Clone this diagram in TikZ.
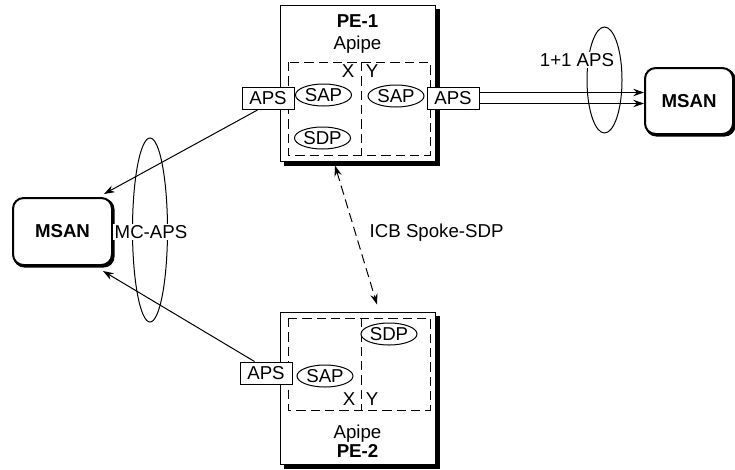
\documentclass[tikz,border=0pt]{standalone}
\usepackage{fontspec}
\setmainfont{Liberation Sans}
\usetikzlibrary{arrows.meta,calc,shapes.geometric,backgrounds}

\begin{document}
\begin{tikzpicture}[x=0.75pt,y=-0.75pt,
  font=\fontsize{14}{16}\selectfont,
  pebox/.style={draw, line width=0.75pt, fill=white, rectangle, inner sep=0pt},
  boxshadow/.style={fill=black},
  zone/.style={draw, dash pattern=on 7pt off 3.75pt, line width=0.75pt},
  port/.style={draw, fill=white, line width=0.75pt, minimum width=39pt,
    minimum height=16.5pt, inner sep=0pt},
  svc/.style={draw, ellipse, fill=white, line width=0.75pt, minimum width=42pt,
    minimum height=16.5pt, inner sep=0pt},
  msan/.style={draw, rounded corners=8pt, line width=1.5pt, fill=white,
    font=\fontsize{14}{16}\selectfont\bfseries},
  group/.style={draw, ellipse, line width=0.75pt, inner sep=0pt},
  link/.style={line width=0.75pt, -{Stealth[length=8pt,width=5.5pt]}},
  lbl/.style={fill=white, inner sep=1pt}
]
\useasboundingbox (0,0) rectangle (735,469);

% provider edge routers
\node[pebox, minimum width=116.25pt, minimum height=117pt] (pe1) at (357.5,83) {};
\node[pebox, minimum width=116.25pt, minimum height=114pt] (pe2) at (357.5,388) {};

% solid drop shadows behind the routers and access nodes
\begin{scope}[on background layer]
  \fill[boxshadow] ($(pe1.north west)+(4,4)$) rectangle ($(pe1.south east)+(4,4)$);
  \fill[boxshadow] ($(pe2.north west)+(4,4)$) rectangle ($(pe2.south east)+(4,4)$);
\end{scope}

\node[anchor=base, font=\fontsize{14}{16}\selectfont\bfseries] (pe1name) at (357.5,27) {PE-1};
\node[anchor=base] (pe1svc) at (357.5,49) {Apipe};
\node[anchor=base] (pe2svc) at (357.5,438) {Apipe};
\node[anchor=base, font=\fontsize{14}{16}\selectfont\bfseries] (pe2name) at (357.5,457) {PE-2};

% service zones with X / Y split
\draw[zone] (288,62) rectangle (430,155);
\draw[zone] (361,62) -- (361,155);
\draw[zone] (288,318) rectangle (430,410);
\draw[zone] (361,318) -- (361,410);
\node[anchor=base] (x1) at (348,77) {X};
\node[anchor=base] (y1) at (372,77) {Y};
\node[anchor=base] (x2) at (349,405) {X};
\node[anchor=base] (y2) at (372,405) {Y};

% service access and distribution points
\node[svc] (sap1) at (323.5,95) {SAP};
\node[svc] (sdp1) at (322.5,138) {SDP};
\node[svc] (sap2) at (396,96) {SAP};
\node[svc] (sdp2) at (389,334) {SDP};
\node[svc] (sap3) at (325,376) {SAP};

% APS ports
\node[port] (aps1) at (268,98.5) {APS};
\node[port] (aps2) at (453,98.5) {APS};
\node[port] (aps3) at (266,373) {APS};

% access nodes
\node[msan, minimum width=74.25pt, minimum height=50.25pt] (msanL) at (62.5,231.5) {MSAN};
\node[msan, minimum width=66pt, minimum height=49.5pt] (msanR) at (689,101) {MSAN};
\begin{scope}[on background layer]
  \fill[boxshadow, rounded corners=8pt] ($(msanL.north west)+(1.5,1.5)$) rectangle ($(msanL.south east)+(1.5,1.5)$);
  \fill[boxshadow, rounded corners=8pt] ($(msanR.north west)+(1.5,1.5)$) rectangle ($(msanR.south east)+(1.5,1.5)$);
\end{scope}

% protection groups
\node[group, minimum width=26.25pt, minimum height=138pt] (mcg) at (150,230) {};
\node[group, minimum width=26.25pt, minimum height=79.5pt] (apsg) at (604.5,80) {};
\node[lbl] (mclbl) at (151,232) {MC-APS};
\node[lbl] (apslbl) at (577,60) {1+1 APS};

% links
\draw[link] ($(aps1.south west)+(16,0)$) -- ($(msanL.north east)+(-9,-3)$);
\draw[link] ($(aps3.north west)+(15,0)$) -- ($(msanL.south east)+(-10,5)$);
\coordinate (t1) at ($(aps2.east)+(0,-6)$);
\coordinate (t2) at ($(aps2.east)+(0,5)$);
\draw[link] (t1) -- (t1 -| msanR.west);
\draw[link] (t2) -- (t2 -| msanR.west);

% inter-chassis backup spoke
\draw[line width=0.75pt, dash pattern=on 7pt off 3.75pt,
  {Stealth[length=8pt,width=5.5pt]}-{Stealth[length=8pt,width=5.5pt]}]
  ($(pe1.south)+(-22.5,4)$) -- ($(pe2.north)+(19.5,-7)$);
\node[anchor=west] (icb) at (365,233) {ICB Spoke-SDP};
\end{tikzpicture}
\end{document}
